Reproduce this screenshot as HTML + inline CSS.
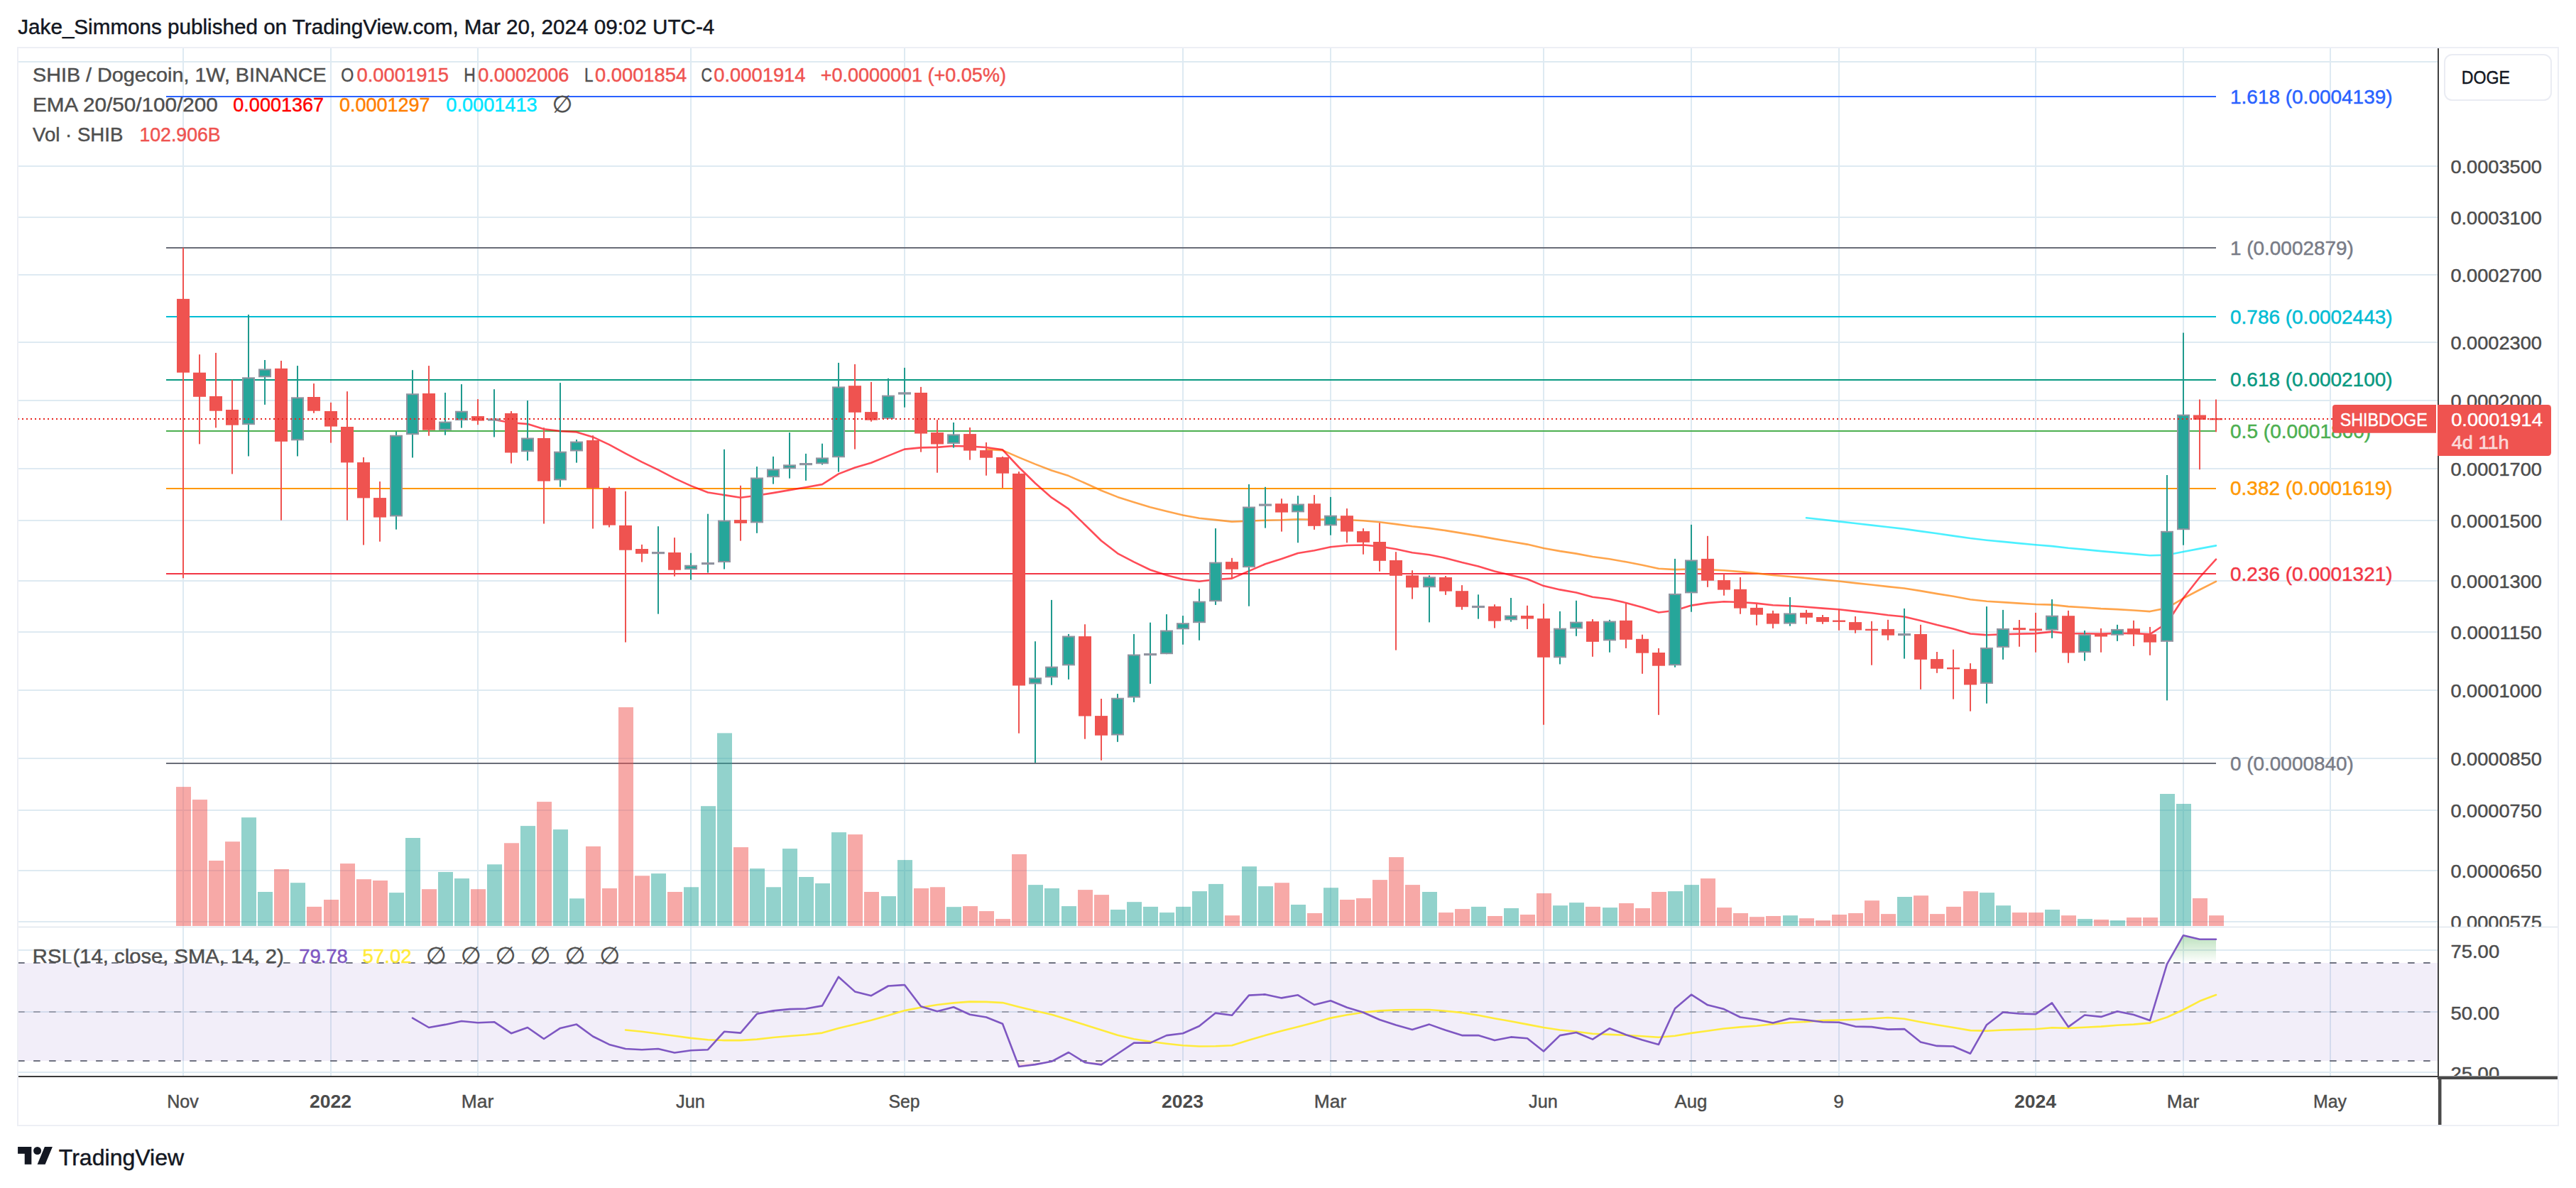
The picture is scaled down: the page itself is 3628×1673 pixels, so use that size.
<!DOCTYPE html>
<html lang="en"><head><meta charset="utf-8"><title>SHIB / Dogecoin, 1W, BINANCE</title>
<style>html,body{margin:0;padding:0;background:#fff}svg{display:block}</style></head>
<body>
<svg width="3628" height="1673" viewBox="0 0 3628 1673" font-family="'Liberation Sans','DejaVu Sans',sans-serif">
<defs>
<linearGradient id="ob" x1="0" y1="0" x2="0" y2="1"><stop offset="0" stop-color="#4caf50" stop-opacity="0.38"/><stop offset="1" stop-color="#4caf50" stop-opacity="0"/></linearGradient>
<linearGradient id="os" x1="0" y1="0" x2="0" y2="1"><stop offset="0" stop-color="#f23645" stop-opacity="0"/><stop offset="1" stop-color="#f23645" stop-opacity="0.25"/></linearGradient>
<clipPath id="cpm"><rect x="25.0" y="67.0" width="3409.0" height="1238.5"/></clipPath>
<clipPath id="cpa1"><rect x="3434.0" y="67.0" width="169.0" height="1238.0"/></clipPath>
<clipPath id="cpa2"><rect x="3434.0" y="1305.5" width="169.0" height="209.5"/></clipPath>
</defs>
<rect width="3628" height="1673" fill="#fff"/>
<g stroke="#deeaf2" stroke-width="2" fill="none">
<path d="M258 67.0V1516.0"/>
<path d="M466 67.0V1516.0"/>
<path d="M673 67.0V1516.0"/>
<path d="M973 67.0V1516.0"/>
<path d="M1274 67.0V1516.0"/>
<path d="M1666 67.0V1516.0"/>
<path d="M1874 67.0V1516.0"/>
<path d="M2174 67.0V1516.0"/>
<path d="M2382 67.0V1516.0"/>
<path d="M2590 67.0V1516.0"/>
<path d="M2867 67.0V1516.0"/>
<path d="M3075 67.0V1516.0"/>
<path d="M3282 67.0V1516.0"/>
<path d="M25.0 87H3434.0"/>
<path d="M25.0 234H3434.0"/>
<path d="M25.0 306H3434.0"/>
<path d="M25.0 387H3434.0"/>
<path d="M25.0 482H3434.0"/>
<path d="M25.0 564H3434.0"/>
<path d="M25.0 660H3434.0"/>
<path d="M25.0 733H3434.0"/>
<path d="M25.0 818H3434.0"/>
<path d="M25.0 890H3434.0"/>
<path d="M25.0 972H3434.0"/>
<path d="M25.0 1068H3434.0"/>
<path d="M25.0 1141H3434.0"/>
<path d="M25.0 1226H3434.0"/>
<path d="M25.0 1298H3434.0"/>
<path d="M25.0 1338H3434.0"/>
<path d="M25.0 1425H3434.0"/>
<path d="M25.0 1510H3434.0"/>
</g>
<rect x="25.0" y="1356.0" width="3408.0" height="138.0" fill="#7e57c2" fill-opacity="0.1"/>
<g stroke="#6f7280" stroke-width="2" stroke-dasharray="9.5 12.5" fill="none">
<path d="M25.14 1356.0H3433.0"/>
<path d="M25.14 1494.0H3433.0"/>
<path d="M25.14 1425.0H3433.0" stroke-opacity="0.6"/>
</g>
<path d="M3052.9 1356.0L3075 1317.2L3098 1322.7L3121 1322.7V1356.0Z" fill="url(#ob)"/>
<path d="M1432 1494.0L1435 1502L1458 1499.1L1481 1494.8L1482.4 1494.0Z" fill="url(#os)"/>
<path d="M1524.5 1494.0L1528 1496.2L1551 1499.4L1559.1 1494.0Z" fill="url(#os)"/>
<path d="M881 1450.5L904 1452.8L927 1455.7L950 1458.7L973 1461.9L997 1464.2L1020 1465.1L1043 1465.1L1066 1463.6L1089 1461L1112 1459L1135 1457.2L1158 1454.6L1181 1447.9L1204 1442.6L1227 1436.8L1251 1430.1L1274 1423.1L1297 1418.8L1320 1415L1343 1412.4L1366 1410.6L1389 1410.9L1412 1412.1L1435 1417.9L1458 1423.4L1481 1428.7L1505 1436L1528 1443.2L1551 1450.5L1574 1457.8L1597 1463.3L1620 1466.8L1643 1469.7L1666 1472.3L1689 1473.5L1712 1473.2L1735 1472.3L1759 1464.8L1782 1458.1L1805 1451.7L1828 1445.9L1851 1440L1874 1433.6L1897 1429.3L1920 1425.8L1943 1423.4L1966 1422.3L1989 1422L2013 1422L2036 1423.7L2059 1426.1L2082 1429.8L2105 1434.2L2128 1438.3L2151 1442.6L2174 1447L2197 1450.5L2220 1452.8L2243 1455.7L2267 1456.9L2290 1457.8L2313 1459.2L2336 1460.7L2359 1458.7L2382 1454.9L2405 1451.7L2428 1448.5L2451 1446.4L2474 1444.7L2497 1442.1L2521 1440L2544 1438.9L2567 1437.1L2590 1436.5L2613 1435.7L2636 1434.5L2659 1433L2682 1434.8L2705 1439.2L2728 1443.2L2751 1447L2775 1451.1L2798 1451.7L2821 1450.5L2844 1449.9L2867 1449.3L2890 1447.3L2913 1447.9L2936 1446.7L2959 1445.6L2982 1443.8L3005 1442.6L3028 1440.6L3052 1432.5L3075 1422L3098 1409.8L3121 1401" fill="none" stroke="#ffeb3b" stroke-width="2.6" stroke-linejoin="round" stroke-linecap="round" />
<path d="M581 1433.6L604 1447L627 1442.9L650 1438L673 1440.3L696 1439.2L720 1455.2L743 1447L766 1463L789 1447.9L812 1442.6L835 1459.5L858 1470.9L881 1477L904 1478.2L927 1477L950 1482.5L973 1479.3L997 1478.2L1020 1452.8L1043 1454.6L1066 1427.8L1089 1423.4L1112 1421.1L1135 1420.5L1158 1416.4L1181 1375.7L1204 1396.4L1227 1402.2L1251 1388.5L1274 1387L1297 1417.3L1320 1424.3L1343 1418.2L1366 1428.7L1389 1432.5L1412 1441.8L1435 1502L1458 1499.1L1481 1494.8L1505 1482L1528 1496.2L1551 1499.4L1574 1484L1597 1468.6L1620 1468.6L1643 1458.1L1666 1455.2L1689 1445L1712 1426.6L1735 1429.8L1759 1401.6L1782 1400.4L1805 1405.4L1828 1401.3L1851 1415L1874 1409.2L1897 1418.8L1920 1425.8L1943 1436L1966 1443.5L1989 1449.9L2013 1442.6L2036 1450.8L2059 1458.1L2082 1458.1L2105 1465.1L2128 1460.4L2151 1462.2L2174 1480.5L2197 1458.1L2220 1454L2243 1463.6L2267 1448.2L2290 1457.2L2313 1464.5L2336 1470.9L2359 1420.2L2382 1400.7L2405 1415.3L2428 1421.1L2451 1432.5L2474 1435.7L2497 1440.6L2521 1434.2L2544 1436.5L2567 1439.2L2590 1439.7L2613 1445.6L2636 1446.1L2659 1449.6L2682 1449.1L2705 1467.4L2728 1472.9L2751 1473.5L2775 1483.7L2798 1443.2L2821 1425.5L2844 1427.5L2867 1428.1L2890 1412.4L2913 1446.1L2936 1429.5L2959 1431.9L2982 1424.3L3005 1429L3028 1437.1L3052 1357.6L3075 1317.2L3098 1322.7L3121 1322.7" fill="none" stroke="#7e57c2" stroke-width="2.6" stroke-linejoin="round" stroke-linecap="round" />
<path d="M234 136H3121" stroke="#2962ff" stroke-width="2" fill="none"/>
<path d="M234 349H3121" stroke="#6a6d78" stroke-width="2" fill="none"/>
<path d="M234 446H3121" stroke="#00bcd4" stroke-width="2" fill="none"/>
<path d="M234 535H3121" stroke="#089981" stroke-width="2" fill="none"/>
<path d="M234 607H3121" stroke="#4caf50" stroke-width="2" fill="none"/>
<path d="M234 688H3121" stroke="#ff9800" stroke-width="2" fill="none"/>
<path d="M234 808H3121" stroke="#f23645" stroke-width="2" fill="none"/>
<path d="M234 1075H3121" stroke="#6a6d78" stroke-width="2" fill="none"/>
<path d="M2544 729.3L2567 731.8L2590 734.4L2613 737L2636 739.6L2659 742.3L2682 744.9L2705 748.1L2728 751.3L2751 754.6L2775 758L2798 760.7L2821 762.9L2844 765.1L2867 767.3L2890 769.1L2913 771.8L2936 773.9L2959 776.1L2982 778.1L3005 780.1L3028 782.3L3052 781.6L3075 777L3098 772.6L3121 768.4" fill="none" stroke="#00eaff" stroke-width="2.6" stroke-linejoin="round" stroke-linecap="round" stroke-opacity="0.7"/>
<path d="M1389 632.9L1412 634.1L1435 644.1L1458 653.6L1481 662.5L1505 670.1L1528 680.3L1551 690.8L1574 699.9L1597 707.2L1620 714.2L1643 720.1L1666 725.5L1689 729.8L1712 732.1L1735 734.6L1759 733.7L1782 732.7L1805 732.3L1828 731.3L1851 731.7L1874 731.4L1897 732L1920 733.2L1943 735.3L1966 738.1L1989 741.3L2013 743.9L2036 747.1L2059 750.9L2082 754.6L2105 758.9L2128 762.7L2151 766.6L2174 772L2197 776.1L2220 779.6L2243 784L2267 787.3L2290 791.3L2313 795.8L2336 800.8L2359 802.1L2382 801.5L2405 802.1L2428 803.2L2451 805.1L2474 807.4L2497 810L2521 812L2544 814.1L2567 816.4L2590 818.5L2613 821.1L2636 823.5L2659 826.1L2682 828.5L2705 832.1L2728 836.1L2751 839.8L2775 844.2L2798 846.7L2821 848.1L2844 849.6L2867 851L2890 851.6L2913 854.1L2936 855.5L2959 857.1L2982 858.1L3005 859.5L3028 861.1L3052 856.2L3075 842.7L3098 830.5L3121 818.9" fill="none" stroke="#ff7f00" stroke-width="2.6" stroke-linejoin="round" stroke-linecap="round" stroke-opacity="0.7"/>
<path d="M696 591L720 595.2L743 597.1L766 604.3L789 607.1L812 608.4L835 615.4L858 626.1L881 638.7L904 650.7L927 661.6L950 673.6L973 684.1L997 693.5L1020 697.1L1043 700.7L1066 697.8L1089 694.1L1112 690.1L1135 686.3L1158 682.1L1181 667.4L1204 658.5L1227 651.7L1251 641.9L1274 632.6L1297 630.4L1320 629.9L1343 628L1366 628.6L1389 630L1412 633.3L1435 658L1458 680.5L1481 700.7L1505 716.7L1528 739L1551 761.5L1574 779.3L1597 791.4L1620 802.5L1643 810L1666 816L1689 818.8L1712 816L1735 814.6L1759 804.1L1782 794.3L1805 786.9L1828 779L1851 775.2L1874 770.2L1897 768L1920 767.5L1943 769.5L1966 773.3L1989 778.2L2013 781.3L2036 785.9L2059 792L2082 797.5L2105 804.4L2128 809.9L2151 815.5L2174 825.1L2197 830.4L2220 834.5L2243 840.7L2267 843.7L2290 848.9L2313 855.2L2336 862.5L2359 859.8L2382 852.6L2405 849.1L2428 847.2L2451 848L2474 849.6L2497 852.2L2521 853.2L2544 854.7L2567 856.6L2590 858.3L2613 860.9L2636 863.3L2659 866.2L2682 868.5L2705 873.9L2728 880L2751 885.5L2775 892.5L2798 894.3L2821 893.3L2844 892.6L2867 892.1L2890 889.6L2913 892.3L2936 892.3L2959 892.6L2982 891.9L3005 892L3028 893.1L3052 877.5L3075 842.2L3098 813L3121 787.7" fill="none" stroke="#ff0010" stroke-width="2.6" stroke-linejoin="round" stroke-linecap="round" stroke-opacity="0.7"/>
<g fill-opacity="0.5">
<rect x="248" y="1108.1" width="21" height="195.9" fill="#ef5350"/>
<rect x="271" y="1126.1" width="21" height="177.9" fill="#ef5350"/>
<rect x="294" y="1212" width="21" height="92" fill="#ef5350"/>
<rect x="317" y="1185.2" width="21" height="118.8" fill="#ef5350"/>
<rect x="340" y="1151.2" width="21" height="152.8" fill="#26a69a"/>
<rect x="363" y="1256" width="21" height="48" fill="#26a69a"/>
<rect x="386" y="1224" width="21" height="80" fill="#ef5350"/>
<rect x="409" y="1243.2" width="21" height="60.8" fill="#26a69a"/>
<rect x="432" y="1276.9" width="21" height="27.1" fill="#ef5350"/>
<rect x="456" y="1267" width="21" height="37" fill="#ef5350"/>
<rect x="479" y="1216.1" width="21" height="87.9" fill="#ef5350"/>
<rect x="502" y="1238.2" width="21" height="65.8" fill="#ef5350"/>
<rect x="525" y="1240" width="21" height="64" fill="#ef5350"/>
<rect x="548" y="1257.1" width="21" height="46.9" fill="#26a69a"/>
<rect x="571" y="1180" width="21" height="124" fill="#26a69a"/>
<rect x="594" y="1252.2" width="21" height="51.8" fill="#ef5350"/>
<rect x="617" y="1228" width="21" height="76" fill="#26a69a"/>
<rect x="640" y="1237.1" width="21" height="66.9" fill="#26a69a"/>
<rect x="663" y="1252.2" width="21" height="51.8" fill="#ef5350"/>
<rect x="686" y="1217.3" width="21" height="86.7" fill="#26a69a"/>
<rect x="710" y="1187.3" width="21" height="116.7" fill="#ef5350"/>
<rect x="733" y="1163.1" width="21" height="140.9" fill="#26a69a"/>
<rect x="756" y="1129.1" width="21" height="174.9" fill="#ef5350"/>
<rect x="779" y="1168.1" width="21" height="135.9" fill="#26a69a"/>
<rect x="802" y="1265.3" width="21" height="38.7" fill="#26a69a"/>
<rect x="825" y="1191.9" width="21" height="112.1" fill="#ef5350"/>
<rect x="848" y="1251" width="21" height="53" fill="#ef5350"/>
<rect x="871" y="996" width="21" height="308" fill="#ef5350"/>
<rect x="894" y="1233.3" width="21" height="70.7" fill="#ef5350"/>
<rect x="917" y="1230.1" width="21" height="73.9" fill="#26a69a"/>
<rect x="940" y="1256" width="21" height="48" fill="#ef5350"/>
<rect x="963" y="1249.3" width="21" height="54.7" fill="#26a69a"/>
<rect x="987" y="1135.2" width="21" height="168.8" fill="#26a69a"/>
<rect x="1010" y="1032.4" width="21" height="271.6" fill="#26a69a"/>
<rect x="1033" y="1193.1" width="21" height="110.9" fill="#ef5350"/>
<rect x="1056" y="1223.1" width="21" height="80.9" fill="#26a69a"/>
<rect x="1079" y="1249.3" width="21" height="54.7" fill="#26a69a"/>
<rect x="1102" y="1195.1" width="21" height="108.9" fill="#26a69a"/>
<rect x="1125" y="1235" width="21" height="69" fill="#26a69a"/>
<rect x="1148" y="1244" width="21" height="60" fill="#26a69a"/>
<rect x="1171" y="1172.1" width="21" height="131.9" fill="#26a69a"/>
<rect x="1194" y="1175.1" width="21" height="128.9" fill="#ef5350"/>
<rect x="1217" y="1256" width="21" height="48" fill="#ef5350"/>
<rect x="1241" y="1262.1" width="21" height="41.9" fill="#26a69a"/>
<rect x="1264" y="1211.1" width="21" height="92.9" fill="#26a69a"/>
<rect x="1287" y="1251" width="21" height="53" fill="#ef5350"/>
<rect x="1310" y="1249.3" width="21" height="54.7" fill="#ef5350"/>
<rect x="1333" y="1277.2" width="21" height="26.8" fill="#26a69a"/>
<rect x="1356" y="1276.1" width="21" height="27.9" fill="#ef5350"/>
<rect x="1379" y="1283.1" width="21" height="20.9" fill="#ef5350"/>
<rect x="1402" y="1294.1" width="21" height="9.9" fill="#ef5350"/>
<rect x="1425" y="1203" width="21" height="101" fill="#ef5350"/>
<rect x="1448" y="1246.1" width="21" height="57.9" fill="#26a69a"/>
<rect x="1471" y="1251" width="21" height="53" fill="#26a69a"/>
<rect x="1495" y="1276.1" width="21" height="27.9" fill="#26a69a"/>
<rect x="1518" y="1253.1" width="21" height="50.9" fill="#ef5350"/>
<rect x="1541" y="1260.1" width="21" height="43.9" fill="#ef5350"/>
<rect x="1564" y="1281" width="21" height="23" fill="#26a69a"/>
<rect x="1587" y="1270.2" width="21" height="33.8" fill="#26a69a"/>
<rect x="1610" y="1276.9" width="21" height="27.1" fill="#26a69a"/>
<rect x="1633" y="1285.1" width="21" height="18.9" fill="#26a69a"/>
<rect x="1656" y="1276.9" width="21" height="27.1" fill="#26a69a"/>
<rect x="1679" y="1255.1" width="21" height="48.9" fill="#26a69a"/>
<rect x="1702" y="1244.9" width="21" height="59.1" fill="#26a69a"/>
<rect x="1725" y="1289.2" width="21" height="14.8" fill="#ef5350"/>
<rect x="1749" y="1220.2" width="21" height="83.8" fill="#26a69a"/>
<rect x="1772" y="1248.1" width="21" height="55.9" fill="#26a69a"/>
<rect x="1795" y="1243.2" width="21" height="60.8" fill="#ef5350"/>
<rect x="1818" y="1274" width="21" height="30" fill="#26a69a"/>
<rect x="1841" y="1286" width="21" height="18" fill="#ef5350"/>
<rect x="1864" y="1250.2" width="21" height="53.8" fill="#26a69a"/>
<rect x="1887" y="1267" width="21" height="37" fill="#ef5350"/>
<rect x="1910" y="1265" width="21" height="39" fill="#ef5350"/>
<rect x="1933" y="1239.1" width="21" height="64.9" fill="#ef5350"/>
<rect x="1956" y="1207.1" width="21" height="96.9" fill="#ef5350"/>
<rect x="1979" y="1246.1" width="21" height="57.9" fill="#ef5350"/>
<rect x="2003" y="1256" width="21" height="48" fill="#26a69a"/>
<rect x="2026" y="1285.1" width="21" height="18.9" fill="#ef5350"/>
<rect x="2049" y="1280.1" width="21" height="23.9" fill="#ef5350"/>
<rect x="2072" y="1276.9" width="21" height="27.1" fill="#26a69a"/>
<rect x="2095" y="1290" width="21" height="14" fill="#ef5350"/>
<rect x="2118" y="1279" width="21" height="25" fill="#26a69a"/>
<rect x="2141" y="1288" width="21" height="16" fill="#ef5350"/>
<rect x="2164" y="1258" width="21" height="46" fill="#ef5350"/>
<rect x="2187" y="1275.2" width="21" height="28.8" fill="#26a69a"/>
<rect x="2210" y="1271.1" width="21" height="32.9" fill="#26a69a"/>
<rect x="2233" y="1276.9" width="21" height="27.1" fill="#ef5350"/>
<rect x="2257" y="1278.1" width="21" height="25.9" fill="#26a69a"/>
<rect x="2280" y="1272" width="21" height="32" fill="#ef5350"/>
<rect x="2303" y="1279" width="21" height="25" fill="#ef5350"/>
<rect x="2326" y="1256" width="21" height="48" fill="#ef5350"/>
<rect x="2349" y="1255.1" width="21" height="48.9" fill="#26a69a"/>
<rect x="2372" y="1246.1" width="21" height="57.9" fill="#26a69a"/>
<rect x="2395" y="1237.1" width="21" height="66.9" fill="#ef5350"/>
<rect x="2418" y="1278.1" width="21" height="25.9" fill="#ef5350"/>
<rect x="2441" y="1286" width="21" height="18" fill="#ef5350"/>
<rect x="2464" y="1291.2" width="21" height="12.8" fill="#ef5350"/>
<rect x="2487" y="1290" width="21" height="14" fill="#ef5350"/>
<rect x="2511" y="1289.2" width="21" height="14.8" fill="#26a69a"/>
<rect x="2534" y="1293.2" width="21" height="10.8" fill="#ef5350"/>
<rect x="2557" y="1296.2" width="21" height="7.8" fill="#ef5350"/>
<rect x="2580" y="1288" width="21" height="16" fill="#ef5350"/>
<rect x="2603" y="1286" width="21" height="18" fill="#ef5350"/>
<rect x="2626" y="1268.2" width="21" height="35.8" fill="#ef5350"/>
<rect x="2649" y="1287.1" width="21" height="16.9" fill="#ef5350"/>
<rect x="2672" y="1263" width="21" height="41" fill="#26a69a"/>
<rect x="2695" y="1261.2" width="21" height="42.8" fill="#ef5350"/>
<rect x="2718" y="1287.1" width="21" height="16.9" fill="#ef5350"/>
<rect x="2741" y="1276.9" width="21" height="27.1" fill="#ef5350"/>
<rect x="2765" y="1255.1" width="21" height="48.9" fill="#ef5350"/>
<rect x="2788" y="1257.1" width="21" height="46.9" fill="#26a69a"/>
<rect x="2811" y="1275.2" width="21" height="28.8" fill="#26a69a"/>
<rect x="2834" y="1285.1" width="21" height="18.9" fill="#ef5350"/>
<rect x="2857" y="1285.1" width="21" height="18.9" fill="#ef5350"/>
<rect x="2880" y="1281" width="21" height="23" fill="#26a69a"/>
<rect x="2903" y="1289.2" width="21" height="14.8" fill="#ef5350"/>
<rect x="2926" y="1294.1" width="21" height="9.9" fill="#26a69a"/>
<rect x="2949" y="1295" width="21" height="9" fill="#ef5350"/>
<rect x="2972" y="1296.2" width="21" height="7.8" fill="#26a69a"/>
<rect x="2995" y="1292.1" width="21" height="11.9" fill="#ef5350"/>
<rect x="3018" y="1292.1" width="21" height="11.9" fill="#ef5350"/>
<rect x="3042" y="1118" width="21" height="186" fill="#26a69a"/>
<rect x="3065" y="1132" width="21" height="172" fill="#26a69a"/>
<rect x="3088" y="1265" width="21" height="39" fill="#ef5350"/>
<rect x="3111" y="1289.2" width="21" height="14.8" fill="#ef5350"/>
</g>
<g>
<rect x="257" y="348.9" width="2" height="465.3" fill="#ef5350"/>
<rect x="249" y="420.9" width="18" height="103.8" fill="#ef5350"/>
<rect x="280" y="499.2" width="2" height="126.2" fill="#ef5350"/>
<rect x="272" y="524.7" width="18" height="34.1" fill="#ef5350"/>
<rect x="303" y="496.9" width="2" height="105.5" fill="#ef5350"/>
<rect x="295" y="558" width="18" height="20.7" fill="#ef5350"/>
<rect x="326" y="535.1" width="2" height="132.4" fill="#ef5350"/>
<rect x="318" y="577" width="18" height="21.7" fill="#ef5350"/>
<rect x="349" y="443.1" width="2" height="199.4" fill="#1f9a8e"/>
<rect x="342" y="532.3" width="16" height="64.9" fill="#26a69a" stroke="#9194a0" stroke-width="2"/>
<rect x="372" y="507" width="2" height="62.9" fill="#1f9a8e"/>
<rect x="365" y="520.4" width="16" height="9.9" fill="#26a69a" stroke="#9194a0" stroke-width="2"/>
<rect x="395" y="508" width="2" height="224.7" fill="#ef5350"/>
<rect x="387" y="518.9" width="18" height="102.9" fill="#ef5350"/>
<rect x="418" y="515.1" width="2" height="127.4" fill="#1f9a8e"/>
<rect x="411" y="560.3" width="16" height="59" fill="#26a69a" stroke="#9194a0" stroke-width="2"/>
<rect x="441" y="540.1" width="2" height="41.7" fill="#ef5350"/>
<rect x="433" y="559" width="18" height="19.7" fill="#ef5350"/>
<rect x="465" y="566.9" width="2" height="56.7" fill="#ef5350"/>
<rect x="457" y="579" width="18" height="21.6" fill="#ef5350"/>
<rect x="488" y="551.2" width="2" height="181.5" fill="#ef5350"/>
<rect x="480" y="601" width="18" height="50.4" fill="#ef5350"/>
<rect x="511" y="644" width="2" height="123.5" fill="#ef5350"/>
<rect x="503" y="651.1" width="18" height="50.3" fill="#ef5350"/>
<rect x="534" y="678.1" width="2" height="84.6" fill="#ef5350"/>
<rect x="526" y="701.1" width="18" height="27.5" fill="#ef5350"/>
<rect x="557" y="607.7" width="2" height="137.9" fill="#1f9a8e"/>
<rect x="550" y="613.7" width="16" height="112.7" fill="#26a69a" stroke="#9194a0" stroke-width="2"/>
<rect x="580" y="521.2" width="2" height="123.3" fill="#1f9a8e"/>
<rect x="573" y="555.2" width="16" height="56" fill="#26a69a" stroke="#9194a0" stroke-width="2"/>
<rect x="603" y="515.1" width="2" height="98.6" fill="#ef5350"/>
<rect x="595" y="554" width="18" height="51.7" fill="#ef5350"/>
<rect x="626" y="553" width="2" height="59.7" fill="#1f9a8e"/>
<rect x="619" y="594.6" width="16" height="10.2" fill="#26a69a" stroke="#9194a0" stroke-width="2"/>
<rect x="649" y="541.1" width="2" height="61.5" fill="#1f9a8e"/>
<rect x="642" y="579.7" width="16" height="11.4" fill="#26a69a" stroke="#9194a0" stroke-width="2"/>
<rect x="672" y="562.1" width="2" height="36.1" fill="#ef5350"/>
<rect x="664" y="586.1" width="18" height="6.5" fill="#ef5350"/>
<rect x="695" y="548.2" width="2" height="67.3" fill="#1f9a8e"/>
<rect x="687" y="589.3" width="18" height="3.3" fill="#9194a0"/>
<rect x="719" y="579" width="2" height="73.6" fill="#ef5350"/>
<rect x="711" y="582" width="18" height="55.5" fill="#ef5350"/>
<rect x="742" y="564.1" width="2" height="84.5" fill="#1f9a8e"/>
<rect x="735" y="617.5" width="16" height="17.7" fill="#26a69a" stroke="#9194a0" stroke-width="2"/>
<rect x="765" y="602.2" width="2" height="135.3" fill="#ef5350"/>
<rect x="757" y="617" width="18" height="60.6" fill="#ef5350"/>
<rect x="788" y="539.1" width="2" height="146.6" fill="#1f9a8e"/>
<rect x="781" y="636.7" width="16" height="38.7" fill="#26a69a" stroke="#9194a0" stroke-width="2"/>
<rect x="811" y="619" width="2" height="32.6" fill="#1f9a8e"/>
<rect x="804" y="622.6" width="16" height="11.9" fill="#26a69a" stroke="#9194a0" stroke-width="2"/>
<rect x="834" y="613.2" width="2" height="131.3" fill="#ef5350"/>
<rect x="826" y="620" width="18" height="67.2" fill="#ef5350"/>
<rect x="857" y="685.2" width="2" height="57.3" fill="#ef5350"/>
<rect x="849" y="687.2" width="18" height="52.4" fill="#ef5350"/>
<rect x="880" y="691.9" width="2" height="212.6" fill="#ef5350"/>
<rect x="872" y="739.9" width="18" height="34.8" fill="#ef5350"/>
<rect x="903" y="766.9" width="2" height="24.6" fill="#ef5350"/>
<rect x="895" y="773" width="18" height="6.8" fill="#ef5350"/>
<rect x="926" y="741.2" width="2" height="123.4" fill="#1f9a8e"/>
<rect x="918" y="777" width="18" height="3.2" fill="#9194a0"/>
<rect x="949" y="757.1" width="2" height="54.5" fill="#ef5350"/>
<rect x="941" y="778" width="18" height="24.7" fill="#ef5350"/>
<rect x="972" y="778.8" width="2" height="37.8" fill="#1f9a8e"/>
<rect x="965" y="796.7" width="16" height="4.5" fill="#26a69a" stroke="#9194a0" stroke-width="2"/>
<rect x="996" y="723.7" width="2" height="82.8" fill="#1f9a8e"/>
<rect x="988" y="792" width="18" height="3.2" fill="#9194a0"/>
<rect x="1019" y="632.8" width="2" height="168.7" fill="#1f9a8e"/>
<rect x="1012" y="733.6" width="16" height="57.4" fill="#26a69a" stroke="#9194a0" stroke-width="2"/>
<rect x="1042" y="683.8" width="2" height="77.8" fill="#ef5350"/>
<rect x="1034" y="732.1" width="18" height="4.8" fill="#ef5350"/>
<rect x="1065" y="657.1" width="2" height="93.7" fill="#1f9a8e"/>
<rect x="1058" y="673.5" width="16" height="61.9" fill="#26a69a" stroke="#9194a0" stroke-width="2"/>
<rect x="1088" y="642.9" width="2" height="38.7" fill="#1f9a8e"/>
<rect x="1081" y="661.4" width="16" height="9.8" fill="#26a69a" stroke="#9194a0" stroke-width="2"/>
<rect x="1111" y="609.1" width="2" height="64.6" fill="#1f9a8e"/>
<rect x="1104" y="655.3" width="16" height="3.8" fill="#26a69a" stroke="#9194a0" stroke-width="2"/>
<rect x="1134" y="638.9" width="2" height="37.9" fill="#1f9a8e"/>
<rect x="1126" y="652" width="18" height="3.2" fill="#9194a0"/>
<rect x="1157" y="624.7" width="2" height="29.8" fill="#1f9a8e"/>
<rect x="1150" y="645.4" width="16" height="6.9" fill="#26a69a" stroke="#9194a0" stroke-width="2"/>
<rect x="1180" y="510.9" width="2" height="153.7" fill="#1f9a8e"/>
<rect x="1173" y="545.4" width="16" height="97.8" fill="#26a69a" stroke="#9194a0" stroke-width="2"/>
<rect x="1203" y="512.9" width="2" height="119.7" fill="#ef5350"/>
<rect x="1195" y="543.2" width="18" height="37.6" fill="#ef5350"/>
<rect x="1226" y="537.9" width="2" height="55.8" fill="#ef5350"/>
<rect x="1218" y="580.1" width="18" height="11.6" fill="#ef5350"/>
<rect x="1250" y="532.8" width="2" height="57.1" fill="#1f9a8e"/>
<rect x="1243" y="557.6" width="16" height="31.3" fill="#26a69a" stroke="#9194a0" stroke-width="2"/>
<rect x="1273" y="517.9" width="2" height="55.8" fill="#1f9a8e"/>
<rect x="1265" y="552.3" width="18" height="3.3" fill="#9194a0"/>
<rect x="1296" y="544.9" width="2" height="91.7" fill="#ef5350"/>
<rect x="1288" y="553" width="18" height="57.6" fill="#ef5350"/>
<rect x="1319" y="591.2" width="2" height="74.5" fill="#ef5350"/>
<rect x="1311" y="609.1" width="18" height="16.4" fill="#ef5350"/>
<rect x="1342" y="595" width="2" height="35.6" fill="#1f9a8e"/>
<rect x="1335" y="612.4" width="16" height="11.6" fill="#26a69a" stroke="#9194a0" stroke-width="2"/>
<rect x="1365" y="602" width="2" height="45.7" fill="#ef5350"/>
<rect x="1357" y="611.1" width="18" height="23.5" fill="#ef5350"/>
<rect x="1388" y="623" width="2" height="46.7" fill="#ef5350"/>
<rect x="1380" y="634.1" width="18" height="10.6" fill="#ef5350"/>
<rect x="1411" y="642.9" width="2" height="44.2" fill="#ef5350"/>
<rect x="1403" y="643.9" width="18" height="22.8" fill="#ef5350"/>
<rect x="1434" y="664.1" width="2" height="368.6" fill="#ef5350"/>
<rect x="1426" y="666.9" width="18" height="298.6" fill="#ef5350"/>
<rect x="1457" y="903.2" width="2" height="170.9" fill="#1f9a8e"/>
<rect x="1450" y="955.3" width="16" height="7.1" fill="#26a69a" stroke="#9194a0" stroke-width="2"/>
<rect x="1480" y="844.9" width="2" height="119.8" fill="#1f9a8e"/>
<rect x="1473" y="939.6" width="16" height="13.6" fill="#26a69a" stroke="#9194a0" stroke-width="2"/>
<rect x="1504" y="892.9" width="2" height="63.9" fill="#1f9a8e"/>
<rect x="1497" y="896.5" width="16" height="39.8" fill="#26a69a" stroke="#9194a0" stroke-width="2"/>
<rect x="1527" y="879.2" width="2" height="161.5" fill="#ef5350"/>
<rect x="1519" y="896.1" width="18" height="112.4" fill="#ef5350"/>
<rect x="1550" y="984" width="2" height="86.8" fill="#ef5350"/>
<rect x="1542" y="1008.1" width="18" height="27.6" fill="#ef5350"/>
<rect x="1573" y="977.1" width="2" height="67.7" fill="#1f9a8e"/>
<rect x="1566" y="983.7" width="16" height="50.8" fill="#26a69a" stroke="#9194a0" stroke-width="2"/>
<rect x="1596" y="893" width="2" height="95.9" fill="#1f9a8e"/>
<rect x="1589" y="922.5" width="16" height="59" fill="#26a69a" stroke="#9194a0" stroke-width="2"/>
<rect x="1619" y="876.7" width="2" height="86.2" fill="#1f9a8e"/>
<rect x="1611" y="920" width="18" height="3.2" fill="#9194a0"/>
<rect x="1642" y="865.1" width="2" height="56.1" fill="#1f9a8e"/>
<rect x="1635" y="888.5" width="16" height="31.7" fill="#26a69a" stroke="#9194a0" stroke-width="2"/>
<rect x="1665" y="867.1" width="2" height="40.6" fill="#1f9a8e"/>
<rect x="1658" y="878.2" width="16" height="7.1" fill="#26a69a" stroke="#9194a0" stroke-width="2"/>
<rect x="1688" y="829.2" width="2" height="72.5" fill="#1f9a8e"/>
<rect x="1681" y="847.6" width="16" height="28.6" fill="#26a69a" stroke="#9194a0" stroke-width="2"/>
<rect x="1711" y="744.1" width="2" height="107.8" fill="#1f9a8e"/>
<rect x="1704" y="792.6" width="16" height="53.5" fill="#26a69a" stroke="#9194a0" stroke-width="2"/>
<rect x="1734" y="785.8" width="2" height="28.2" fill="#ef5350"/>
<rect x="1726" y="791.1" width="18" height="10.6" fill="#ef5350"/>
<rect x="1758" y="682" width="2" height="171.7" fill="#1f9a8e"/>
<rect x="1751" y="714.5" width="16" height="83.6" fill="#26a69a" stroke="#9194a0" stroke-width="2"/>
<rect x="1781" y="685.8" width="2" height="57.8" fill="#1f9a8e"/>
<rect x="1773" y="709.5" width="18" height="3.2" fill="#9194a0"/>
<rect x="1804" y="702.2" width="2" height="46.4" fill="#ef5350"/>
<rect x="1796" y="709.2" width="18" height="12.4" fill="#ef5350"/>
<rect x="1827" y="698.1" width="2" height="66.2" fill="#1f9a8e"/>
<rect x="1820" y="710.5" width="16" height="9.9" fill="#26a69a" stroke="#9194a0" stroke-width="2"/>
<rect x="1850" y="697.1" width="2" height="48.8" fill="#ef5350"/>
<rect x="1842" y="709.2" width="18" height="31.6" fill="#ef5350"/>
<rect x="1873" y="699.9" width="2" height="53.8" fill="#1f9a8e"/>
<rect x="1866" y="726.7" width="16" height="12.6" fill="#26a69a" stroke="#9194a0" stroke-width="2"/>
<rect x="1896" y="716.1" width="2" height="48.2" fill="#ef5350"/>
<rect x="1888" y="726.2" width="18" height="22.4" fill="#ef5350"/>
<rect x="1919" y="744.1" width="2" height="36.6" fill="#ef5350"/>
<rect x="1911" y="748.1" width="18" height="15.7" fill="#ef5350"/>
<rect x="1942" y="736.3" width="2" height="68.4" fill="#ef5350"/>
<rect x="1934" y="763" width="18" height="26.8" fill="#ef5350"/>
<rect x="1965" y="777.2" width="2" height="138.4" fill="#ef5350"/>
<rect x="1957" y="789" width="18" height="21.8" fill="#ef5350"/>
<rect x="1988" y="803.2" width="2" height="40.4" fill="#ef5350"/>
<rect x="1980" y="810.3" width="18" height="17.1" fill="#ef5350"/>
<rect x="2012" y="810.3" width="2" height="66.1" fill="#1f9a8e"/>
<rect x="2005" y="813.3" width="16" height="12.9" fill="#26a69a" stroke="#9194a0" stroke-width="2"/>
<rect x="2035" y="811" width="2" height="26.8" fill="#ef5350"/>
<rect x="2027" y="813" width="18" height="19.7" fill="#ef5350"/>
<rect x="2058" y="824.1" width="2" height="34.6" fill="#ef5350"/>
<rect x="2050" y="832.2" width="18" height="22.5" fill="#ef5350"/>
<rect x="2081" y="837.3" width="2" height="34.3" fill="#1f9a8e"/>
<rect x="2073" y="852.9" width="18" height="3.2" fill="#9194a0"/>
<rect x="2104" y="851.2" width="2" height="33.3" fill="#ef5350"/>
<rect x="2096" y="853.9" width="18" height="20.7" fill="#ef5350"/>
<rect x="2127" y="842" width="2" height="33.6" fill="#1f9a8e"/>
<rect x="2120" y="867.5" width="16" height="4.8" fill="#26a69a" stroke="#9194a0" stroke-width="2"/>
<rect x="2150" y="852.8" width="2" height="33.1" fill="#ef5350"/>
<rect x="2142" y="867" width="18" height="4.5" fill="#ef5350"/>
<rect x="2173" y="850.1" width="2" height="170.6" fill="#ef5350"/>
<rect x="2165" y="871" width="18" height="54.8" fill="#ef5350"/>
<rect x="2196" y="860.9" width="2" height="74.5" fill="#1f9a8e"/>
<rect x="2189" y="885.6" width="16" height="39.7" fill="#26a69a" stroke="#9194a0" stroke-width="2"/>
<rect x="2219" y="845.8" width="2" height="50" fill="#1f9a8e"/>
<rect x="2212" y="876.6" width="16" height="7.8" fill="#26a69a" stroke="#9194a0" stroke-width="2"/>
<rect x="2242" y="872" width="2" height="52.8" fill="#ef5350"/>
<rect x="2234" y="875.1" width="18" height="28.7" fill="#ef5350"/>
<rect x="2266" y="872.8" width="2" height="45.9" fill="#1f9a8e"/>
<rect x="2259" y="875.5" width="16" height="25.8" fill="#26a69a" stroke="#9194a0" stroke-width="2"/>
<rect x="2289" y="848.8" width="2" height="64.1" fill="#ef5350"/>
<rect x="2281" y="873.8" width="18" height="27" fill="#ef5350"/>
<rect x="2312" y="893.7" width="2" height="55.1" fill="#ef5350"/>
<rect x="2304" y="899.8" width="18" height="19.9" fill="#ef5350"/>
<rect x="2335" y="912.9" width="2" height="93.9" fill="#ef5350"/>
<rect x="2327" y="919" width="18" height="18.7" fill="#ef5350"/>
<rect x="2358" y="786.9" width="2" height="152.8" fill="#1f9a8e"/>
<rect x="2351" y="836.9" width="16" height="99.3" fill="#26a69a" stroke="#9194a0" stroke-width="2"/>
<rect x="2381" y="738.9" width="2" height="122.8" fill="#1f9a8e"/>
<rect x="2374" y="789.4" width="16" height="45" fill="#26a69a" stroke="#9194a0" stroke-width="2"/>
<rect x="2404" y="754.8" width="2" height="72" fill="#ef5350"/>
<rect x="2396" y="786.9" width="18" height="30.8" fill="#ef5350"/>
<rect x="2427" y="807.9" width="2" height="30.8" fill="#ef5350"/>
<rect x="2419" y="817" width="18" height="13.6" fill="#ef5350"/>
<rect x="2450" y="812.9" width="2" height="51.8" fill="#ef5350"/>
<rect x="2442" y="829.8" width="18" height="26.8" fill="#ef5350"/>
<rect x="2473" y="850.8" width="2" height="29.8" fill="#ef5350"/>
<rect x="2465" y="855.9" width="18" height="9.8" fill="#ef5350"/>
<rect x="2496" y="859.9" width="2" height="25" fill="#ef5350"/>
<rect x="2488" y="863.9" width="18" height="14.7" fill="#ef5350"/>
<rect x="2520" y="841" width="2" height="40.6" fill="#1f9a8e"/>
<rect x="2513" y="864.4" width="16" height="13.2" fill="#26a69a" stroke="#9194a0" stroke-width="2"/>
<rect x="2543" y="858.9" width="2" height="19.9" fill="#ef5350"/>
<rect x="2535" y="862.9" width="18" height="6.8" fill="#ef5350"/>
<rect x="2566" y="866" width="2" height="12.8" fill="#ef5350"/>
<rect x="2558" y="869" width="18" height="6.8" fill="#ef5350"/>
<rect x="2589" y="858.4" width="2" height="29.3" fill="#ef5350"/>
<rect x="2581" y="873.5" width="18" height="2.4" fill="#ef5350"/>
<rect x="2612" y="868" width="2" height="23.7" fill="#ef5350"/>
<rect x="2604" y="876.1" width="18" height="11.3" fill="#ef5350"/>
<rect x="2635" y="874.8" width="2" height="61.9" fill="#ef5350"/>
<rect x="2627" y="885.7" width="18" height="2.4" fill="#ef5350"/>
<rect x="2658" y="872.8" width="2" height="28.8" fill="#ef5350"/>
<rect x="2650" y="885.9" width="18" height="8.8" fill="#ef5350"/>
<rect x="2681" y="856.9" width="2" height="70.7" fill="#1f9a8e"/>
<rect x="2673" y="892" width="18" height="3.2" fill="#9194a0"/>
<rect x="2704" y="879.8" width="2" height="91" fill="#ef5350"/>
<rect x="2696" y="893" width="18" height="35.8" fill="#ef5350"/>
<rect x="2727" y="918" width="2" height="29.8" fill="#ef5350"/>
<rect x="2719" y="928.1" width="18" height="13.6" fill="#ef5350"/>
<rect x="2750" y="914.7" width="2" height="69.9" fill="#ef5350"/>
<rect x="2742" y="940" width="18" height="2.4" fill="#ef5350"/>
<rect x="2774" y="934.1" width="2" height="67.5" fill="#ef5350"/>
<rect x="2766" y="942.2" width="18" height="22.2" fill="#ef5350"/>
<rect x="2797" y="854.1" width="2" height="136.6" fill="#1f9a8e"/>
<rect x="2790" y="912.9" width="16" height="49" fill="#26a69a" stroke="#9194a0" stroke-width="2"/>
<rect x="2820" y="858.9" width="2" height="69.9" fill="#1f9a8e"/>
<rect x="2813" y="885.9" width="16" height="25" fill="#26a69a" stroke="#9194a0" stroke-width="2"/>
<rect x="2843" y="873" width="2" height="37.7" fill="#ef5350"/>
<rect x="2835" y="884.1" width="18" height="3.1" fill="#ef5350"/>
<rect x="2866" y="862.9" width="2" height="55.8" fill="#ef5350"/>
<rect x="2858" y="885.4" width="18" height="2.8" fill="#ef5350"/>
<rect x="2889" y="844" width="2" height="54.8" fill="#1f9a8e"/>
<rect x="2882" y="867.7" width="16" height="19" fill="#26a69a" stroke="#9194a0" stroke-width="2"/>
<rect x="2912" y="859.9" width="2" height="73.7" fill="#ef5350"/>
<rect x="2904" y="867.2" width="18" height="52.3" fill="#ef5350"/>
<rect x="2935" y="887.9" width="2" height="42.7" fill="#1f9a8e"/>
<rect x="2928" y="894.2" width="16" height="23.8" fill="#26a69a" stroke="#9194a0" stroke-width="2"/>
<rect x="2958" y="884.9" width="2" height="33.8" fill="#ef5350"/>
<rect x="2950" y="892.7" width="18" height="3.8" fill="#ef5350"/>
<rect x="2981" y="879.8" width="2" height="23" fill="#1f9a8e"/>
<rect x="2974" y="886.9" width="16" height="6.8" fill="#26a69a" stroke="#9194a0" stroke-width="2"/>
<rect x="3004" y="873.8" width="2" height="36.1" fill="#ef5350"/>
<rect x="2996" y="885.2" width="18" height="8" fill="#ef5350"/>
<rect x="3027" y="882.9" width="2" height="39.9" fill="#ef5350"/>
<rect x="3019" y="893.2" width="18" height="11.4" fill="#ef5350"/>
<rect x="3051" y="669" width="2" height="317.4" fill="#1f9a8e"/>
<rect x="3044" y="748.8" width="16" height="154" fill="#26a69a" stroke="#9194a0" stroke-width="2"/>
<rect x="3074" y="468.6" width="2" height="299.1" fill="#1f9a8e"/>
<rect x="3067" y="584.7" width="16" height="160.5" fill="#26a69a" stroke="#9194a0" stroke-width="2"/>
<rect x="3097" y="562.5" width="2" height="98.7" fill="#ef5350"/>
<rect x="3089" y="584.5" width="18" height="6.6" fill="#ef5350"/>
<rect x="3120" y="562.5" width="2" height="45.8" fill="#ef5350"/>
<rect x="3112" y="589" width="18" height="2.4" fill="#ef5350"/>
</g>
<path d="M25.0 590H3434.0" stroke="#e8241f" stroke-width="2" stroke-dasharray="2 4" fill="none"/>
<text x="3141" y="145.7" font-size="27.5" fill="#2962ff" stroke="#2962ff" stroke-width="0.45" textLength="228.6" lengthAdjust="spacingAndGlyphs" >1.618 (0.0004139)</text>
<text x="3141" y="358.7" font-size="27.5" fill="#787b86" stroke="#787b86" stroke-width="0.45" textLength="173.8" lengthAdjust="spacingAndGlyphs" >1 (0.0002879)</text>
<text x="3141" y="455.7" font-size="27.5" fill="#00bcd4" stroke="#00bcd4" stroke-width="0.45" textLength="228.6" lengthAdjust="spacingAndGlyphs" >0.786 (0.0002443)</text>
<text x="3141" y="544.3" font-size="27.5" fill="#089981" stroke="#089981" stroke-width="0.45" textLength="228.6" lengthAdjust="spacingAndGlyphs" >0.618 (0.0002100)</text>
<text x="3141" y="616.9" font-size="27.5" fill="#4caf50" stroke="#4caf50" stroke-width="0.45" textLength="198.2" lengthAdjust="spacingAndGlyphs" >0.5 (0.0001860)</text>
<text x="3141" y="697.4" font-size="27.5" fill="#ff9800" stroke="#ff9800" stroke-width="0.45" textLength="228.6" lengthAdjust="spacingAndGlyphs" >0.382 (0.0001619)</text>
<text x="3141" y="817.7" font-size="27.5" fill="#f23645" stroke="#f23645" stroke-width="0.45" textLength="228.6" lengthAdjust="spacingAndGlyphs" >0.236 (0.0001321)</text>
<text x="3141" y="1084.5" font-size="27.5" fill="#787b86" stroke="#787b86" stroke-width="0.45" textLength="173.8" lengthAdjust="spacingAndGlyphs" >0 (0.0000840)</text>
<rect x="3434.0" y="68.0" width="168.0" height="1516.0" fill="#fff"/>
<path d="M25.0 1305.5H3603.0" stroke="#e0e6ee" stroke-width="1.6"/>
<g clip-path="url(#cpa1)">
<text x="3451.4" y="243.9" font-size="26.4" fill="#4c4c4c" stroke="#4c4c4c" stroke-width="0.45" textLength="128.6" lengthAdjust="spacingAndGlyphs" >0.0003500</text>
<text x="3451.4" y="315.7" font-size="26.4" fill="#4c4c4c" stroke="#4c4c4c" stroke-width="0.45" textLength="128.6" lengthAdjust="spacingAndGlyphs" >0.0003100</text>
<text x="3451.4" y="397.3" font-size="26.4" fill="#4c4c4c" stroke="#4c4c4c" stroke-width="0.45" textLength="128.6" lengthAdjust="spacingAndGlyphs" >0.0002700</text>
<text x="3451.4" y="491.8" font-size="26.4" fill="#4c4c4c" stroke="#4c4c4c" stroke-width="0.45" textLength="128.6" lengthAdjust="spacingAndGlyphs" >0.0002300</text>
<text x="3451.4" y="574.1" font-size="26.4" fill="#4c4c4c" stroke="#4c4c4c" stroke-width="0.45" textLength="128.6" lengthAdjust="spacingAndGlyphs" >0.0002000</text>
<text x="3451.4" y="669.9" font-size="26.4" fill="#4c4c4c" stroke="#4c4c4c" stroke-width="0.45" textLength="128.6" lengthAdjust="spacingAndGlyphs" >0.0001700</text>
<text x="3451.4" y="742.7" font-size="26.4" fill="#4c4c4c" stroke="#4c4c4c" stroke-width="0.45" textLength="128.6" lengthAdjust="spacingAndGlyphs" >0.0001500</text>
<text x="3451.4" y="827.7" font-size="26.4" fill="#4c4c4c" stroke="#4c4c4c" stroke-width="0.45" textLength="128.6" lengthAdjust="spacingAndGlyphs" >0.0001300</text>
<text x="3451.4" y="899.7" font-size="26.4" fill="#4c4c4c" stroke="#4c4c4c" stroke-width="0.45" textLength="128.6" lengthAdjust="spacingAndGlyphs" >0.0001150</text>
<text x="3451.4" y="981.8" font-size="26.4" fill="#4c4c4c" stroke="#4c4c4c" stroke-width="0.45" textLength="128.6" lengthAdjust="spacingAndGlyphs" >0.0001000</text>
<text x="3451.4" y="1077.7" font-size="26.4" fill="#4c4c4c" stroke="#4c4c4c" stroke-width="0.45" textLength="128.6" lengthAdjust="spacingAndGlyphs" >0.0000850</text>
<text x="3451.4" y="1150.8" font-size="26.4" fill="#4c4c4c" stroke="#4c4c4c" stroke-width="0.45" textLength="128.6" lengthAdjust="spacingAndGlyphs" >0.0000750</text>
<text x="3451.4" y="1235.7" font-size="26.4" fill="#4c4c4c" stroke="#4c4c4c" stroke-width="0.45" textLength="128.6" lengthAdjust="spacingAndGlyphs" >0.0000650</text>
<text x="3451.4" y="1307.9" font-size="26.4" fill="#4c4c4c" stroke="#4c4c4c" stroke-width="0.45" textLength="128.6" lengthAdjust="spacingAndGlyphs" >0.0000575</text>
</g>
<g clip-path="url(#cpa2)">
<text x="3451.4" y="1349.4" font-size="26.4" fill="#4c4c4c" stroke="#4c4c4c" stroke-width="0.45" textLength="68.8" lengthAdjust="spacingAndGlyphs" >75.00</text>
<text x="3451.4" y="1435.9" font-size="26.4" fill="#4c4c4c" stroke="#4c4c4c" stroke-width="0.45" textLength="68.8" lengthAdjust="spacingAndGlyphs" >50.00</text>
<text x="3451.4" y="1521.4" font-size="26.4" fill="#4c4c4c" stroke="#4c4c4c" stroke-width="0.45" textLength="68.8" lengthAdjust="spacingAndGlyphs" >25.00</text>
</g>
<path d="M3434.0 67.0V1516.0" stroke="#404040" stroke-width="2"/>
<rect x="3443" y="77" width="150" height="64" rx="10.5" fill="#fff" stroke="#eaecf3" stroke-width="2"/>
<text x="3466.7" y="118" font-size="25.5" fill="#131722" stroke="#131722" stroke-width="0.45" textLength="68.3" lengthAdjust="spacingAndGlyphs" >DOGE</text>
<path d="M3431 570V609.8H3289a4 4 0 0 1 -4 -4V574a4 4 0 0 1 4 -4Z" fill="#ef5350"/>
<text x="3295.7" y="599.7" font-size="25.5" fill="#fff" stroke="#fff" stroke-width="0.45" textLength="123" lengthAdjust="spacingAndGlyphs" >SHIBDOGE</text>
<path d="M3433.0 570H3588.5a4.5 4.5 0 0 1 4.5 4.5V637.5a4.5 4.5 0 0 1 -4.5 4.5H3433.0Z" fill="#ef5350"/>
<text x="3452.2" y="599.7" font-size="26" fill="#fff" stroke="#fff" stroke-width="0.45" textLength="128.6" lengthAdjust="spacingAndGlyphs" >0.0001914</text>
<text x="3452.7" y="631.6" font-size="26" fill="#fff" stroke="#fff" stroke-width="0.45" textLength="81" lengthAdjust="spacingAndGlyphs" fill-opacity="0.72">4d 11h</text>
<path d="M25.0 1516.0H3434.0" stroke="#3a3a3a" stroke-width="2"/>
<path d="M3433.0 1517.8H3603.0" stroke="#4a4a4a" stroke-width="4.4"/>
<path d="M3436.2 1516V1585.0" stroke="#4a4a4a" stroke-width="4.6"/>
<text x="257.5" y="1559.7" font-size="26.4" fill="#4c4c4c" stroke="#4c4c4c" stroke-width="0.45" textLength="44.6" lengthAdjust="spacingAndGlyphs" text-anchor="middle" >Nov</text>
<text x="465.5" y="1559.7" font-size="26.4" fill="#4c4c4c" stroke="#4c4c4c" stroke-width="0" textLength="59" lengthAdjust="spacingAndGlyphs" text-anchor="middle" font-weight="bold" >2022</text>
<text x="672.5" y="1559.7" font-size="26.4" fill="#4c4c4c" stroke="#4c4c4c" stroke-width="0.45" textLength="45.4" lengthAdjust="spacingAndGlyphs" text-anchor="middle" >Mar</text>
<text x="972.5" y="1559.7" font-size="26.4" fill="#4c4c4c" stroke="#4c4c4c" stroke-width="0.45" textLength="40.8" lengthAdjust="spacingAndGlyphs" text-anchor="middle" >Jun</text>
<text x="1273.5" y="1559.7" font-size="26.4" fill="#4c4c4c" stroke="#4c4c4c" stroke-width="0.45" textLength="44" lengthAdjust="spacingAndGlyphs" text-anchor="middle" >Sep</text>
<text x="1665.5" y="1559.7" font-size="26.4" fill="#4c4c4c" stroke="#4c4c4c" stroke-width="0" textLength="59" lengthAdjust="spacingAndGlyphs" text-anchor="middle" font-weight="bold" >2023</text>
<text x="1873.5" y="1559.7" font-size="26.4" fill="#4c4c4c" stroke="#4c4c4c" stroke-width="0.45" textLength="45.4" lengthAdjust="spacingAndGlyphs" text-anchor="middle" >Mar</text>
<text x="2173.5" y="1559.7" font-size="26.4" fill="#4c4c4c" stroke="#4c4c4c" stroke-width="0.45" textLength="40.8" lengthAdjust="spacingAndGlyphs" text-anchor="middle" >Jun</text>
<text x="2381.5" y="1559.7" font-size="26.4" fill="#4c4c4c" stroke="#4c4c4c" stroke-width="0.45" textLength="46" lengthAdjust="spacingAndGlyphs" text-anchor="middle" >Aug</text>
<text x="2589.5" y="1559.7" font-size="26.4" fill="#4c4c4c" stroke="#4c4c4c" stroke-width="0.45" text-anchor="middle" >9</text>
<text x="2866.5" y="1559.7" font-size="26.4" fill="#4c4c4c" stroke="#4c4c4c" stroke-width="0" textLength="59" lengthAdjust="spacingAndGlyphs" text-anchor="middle" font-weight="bold" >2024</text>
<text x="3074.5" y="1559.7" font-size="26.4" fill="#4c4c4c" stroke="#4c4c4c" stroke-width="0.45" textLength="45.4" lengthAdjust="spacingAndGlyphs" text-anchor="middle" >Mar</text>
<text x="3281.5" y="1559.7" font-size="26.4" fill="#4c4c4c" stroke="#4c4c4c" stroke-width="0.45" textLength="47" lengthAdjust="spacingAndGlyphs" text-anchor="middle" >May</text>
<rect x="25.0" y="67.0" width="3578.0" height="1518.0" fill="none" stroke="#edeff5" stroke-width="2"/>
<text x="25.3" y="48.4" font-size="28.6" fill="#131722" stroke="#131722" stroke-width="0.45" textLength="981" lengthAdjust="spacingAndGlyphs" >Jake_Simmons published on TradingView.com, Mar 20, 2024 09:02 UTC-4</text>
<text x="46" y="115.3" font-size="27.5" fill="#4f4f4f" stroke="#4f4f4f" stroke-width="0.45" textLength="413.6" lengthAdjust="spacingAndGlyphs" >SHIB / Dogecoin, 1W, BINANCE</text>
<text x="480.3" y="115.3" font-size="27.5" fill="#4f4f4f" stroke="#4f4f4f" stroke-width="0.45" textLength="18" lengthAdjust="spacingAndGlyphs" >O</text>
<text x="502.5" y="115.3" font-size="27.5" fill="#ef5350" stroke="#ef5350" stroke-width="0.45" textLength="129.4" lengthAdjust="spacingAndGlyphs" >0.0001915</text>
<text x="653.3" y="115.3" font-size="27.5" fill="#4f4f4f" stroke="#4f4f4f" stroke-width="0.45" textLength="16.5" lengthAdjust="spacingAndGlyphs" >H</text>
<text x="673.2" y="115.3" font-size="27.5" fill="#ef5350" stroke="#ef5350" stroke-width="0.45" textLength="128.2" lengthAdjust="spacingAndGlyphs" >0.0002006</text>
<text x="822.9" y="115.3" font-size="27.5" fill="#4f4f4f" stroke="#4f4f4f" stroke-width="0.45" textLength="12.5" lengthAdjust="spacingAndGlyphs" >L</text>
<text x="838" y="115.3" font-size="27.5" fill="#ef5350" stroke="#ef5350" stroke-width="0.45" textLength="129.1" lengthAdjust="spacingAndGlyphs" >0.0001854</text>
<text x="987.4" y="115.3" font-size="27.5" fill="#4f4f4f" stroke="#4f4f4f" stroke-width="0.45" textLength="15.5" lengthAdjust="spacingAndGlyphs" >C</text>
<text x="1005.3" y="115.3" font-size="27.5" fill="#ef5350" stroke="#ef5350" stroke-width="0.45" textLength="129.2" lengthAdjust="spacingAndGlyphs" >0.0001914</text>
<text x="1155.7" y="115.3" font-size="27.5" fill="#ef5350" stroke="#ef5350" stroke-width="0.45" textLength="261.2" lengthAdjust="spacingAndGlyphs" >+0.0000001 (+0.05%)</text>
<text x="46" y="157.2" font-size="27.5" fill="#4f4f4f" stroke="#4f4f4f" stroke-width="0.45" textLength="260.8" lengthAdjust="spacingAndGlyphs" >EMA 20/50/100/200</text>
<text x="328.3" y="157.2" font-size="27.5" fill="#ff0000" stroke="#ff0000" stroke-width="0.45" textLength="127.8" lengthAdjust="spacingAndGlyphs" >0.0001367</text>
<text x="477.9" y="157.2" font-size="27.5" fill="#ff7f00" stroke="#ff7f00" stroke-width="0.45" textLength="127.7" lengthAdjust="spacingAndGlyphs" >0.0001297</text>
<text x="628.3" y="157.2" font-size="27.5" fill="#00e5ff" stroke="#00e5ff" stroke-width="0.45" textLength="128.4" lengthAdjust="spacingAndGlyphs" >0.0001413</text>
<text x="791.8" y="158.4" font-size="33" fill="#4f4f4f" stroke="#4f4f4f" stroke-width="0.45" text-anchor="middle" >∅</text>
<text x="46" y="198.8" font-size="27.5" fill="#4f4f4f" stroke="#4f4f4f" stroke-width="0.45" textLength="127.4" lengthAdjust="spacingAndGlyphs" >Vol · SHIB</text>
<text x="196.4" y="198.8" font-size="27.5" fill="#ef5350" stroke="#ef5350" stroke-width="0.45" textLength="114.2" lengthAdjust="spacingAndGlyphs" >102.906B</text>
<text x="45.8" y="1355.7" font-size="27.5" fill="#4f4f4f" stroke="#4f4f4f" stroke-width="0.45" textLength="354" lengthAdjust="spacingAndGlyphs" >RSI (14, close, SMA, 14, 2)</text>
<text x="421.2" y="1355.7" font-size="27.5" fill="#7e57c2" stroke="#7e57c2" stroke-width="0.45" textLength="68.7" lengthAdjust="spacingAndGlyphs" >79.78</text>
<text x="510.5" y="1355.7" font-size="27.5" fill="#ffeb3b" stroke="#ffeb3b" stroke-width="0.45" textLength="69.1" lengthAdjust="spacingAndGlyphs" >57.02</text>
<text x="614.2" y="1356.9" font-size="33" fill="#4f4f4f" stroke="#4f4f4f" stroke-width="0.45" text-anchor="middle" >∅</text>
<text x="663" y="1356.9" font-size="33" fill="#4f4f4f" stroke="#4f4f4f" stroke-width="0.45" text-anchor="middle" >∅</text>
<text x="711.9" y="1356.9" font-size="33" fill="#4f4f4f" stroke="#4f4f4f" stroke-width="0.45" text-anchor="middle" >∅</text>
<text x="760.9" y="1356.9" font-size="33" fill="#4f4f4f" stroke="#4f4f4f" stroke-width="0.45" text-anchor="middle" >∅</text>
<text x="809.8" y="1356.9" font-size="33" fill="#4f4f4f" stroke="#4f4f4f" stroke-width="0.45" text-anchor="middle" >∅</text>
<text x="858.7" y="1356.9" font-size="33" fill="#4f4f4f" stroke="#4f4f4f" stroke-width="0.45" text-anchor="middle" >∅</text>
<g transform="translate(25.1,1609.5) scale(1.375)" fill="#131722"><path d="M14 22H7V11H0V4h14v18zM28 22h-8l7.5-18h8L28 22z"/><circle cx="20" cy="8" r="4"/></g>
<text x="82.8" y="1641.2" font-size="31.5" fill="#131722" stroke="#131722" stroke-width="0.45" textLength="176.4" lengthAdjust="spacingAndGlyphs" >TradingView</text>
</svg>
</body></html>
